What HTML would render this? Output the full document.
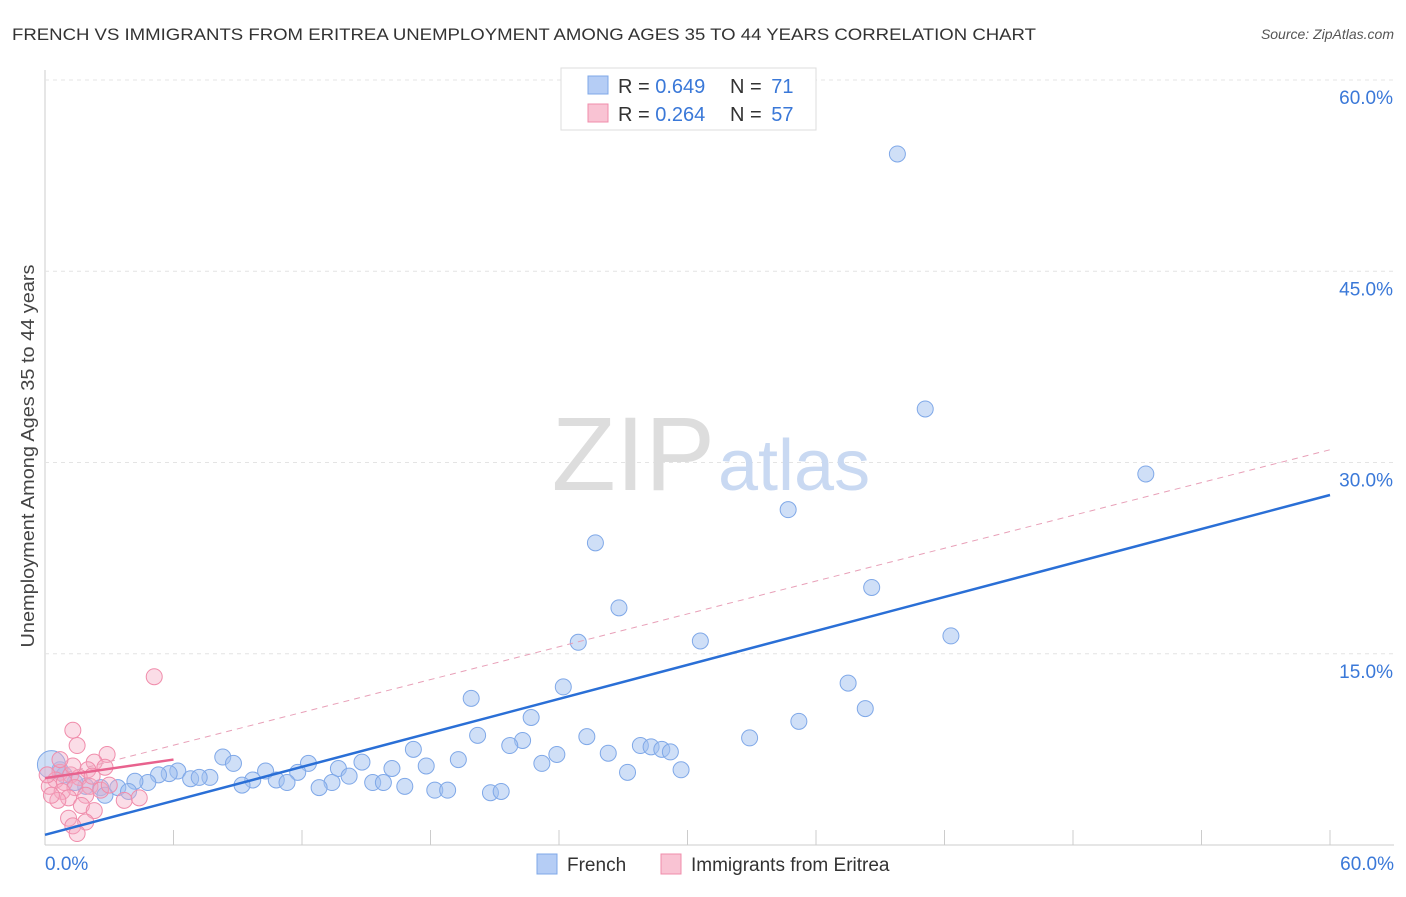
<!DOCTYPE html>
<html><head><meta charset="utf-8"><style>
body{margin:0;background:#fff;font-family:"Liberation Sans",sans-serif;}
svg text{font-family:"Liberation Sans",sans-serif;}
</style></head><body>
<svg width="1406" height="892" viewBox="0 0 1406 892">
<text x="12" y="40" font-size="17" fill="#333" textLength="1024" lengthAdjust="spacingAndGlyphs">FRENCH VS IMMIGRANTS FROM ERITREA UNEMPLOYMENT AMONG AGES 35 TO 44 YEARS CORRELATION CHART</text>
<text x="1394" y="39" font-size="14" fill="#555" font-style="italic" text-anchor="end">Source: ZipAtlas.com</text>
<text x="34" y="456" font-size="18" fill="#444" text-anchor="middle" textLength="383" lengthAdjust="spacingAndGlyphs" transform="rotate(-90 34 456)">Unemployment Among Ages 35 to 44 years</text>
<g id="grid"></g>
<text x="715" y="490" font-size="105" fill="#ddd" text-anchor="end" font-family="Liberation Serif">ZIP</text>
<text x="718" y="490" font-size="72" fill="#c9d9f2">atlas</text>
<g id="marks"></g>
<g>
<rect x="561" y="68" width="255" height="62" fill="#fff" stroke="#ddd"/>
<rect x="588" y="76" width="20" height="18" fill="#b5cdf5" stroke="#7fa8e8"/>
<rect x="588" y="104" width="20" height="18" fill="#f9c3d3" stroke="#f08cab"/>
<text x="618" y="93" font-size="20" fill="#333">R = <tspan fill="#3a78d8">0.649</tspan></text>
<text x="730" y="93" font-size="20" fill="#333">N = <tspan dx="4" fill="#3a78d8">71</tspan></text>
<text x="618" y="121" font-size="20" fill="#333">R = <tspan fill="#3a78d8">0.264</tspan></text>
<text x="730" y="121" font-size="20" fill="#333">N = <tspan dx="4" fill="#3a78d8">57</tspan></text>
</g>
<g>
<rect x="537" y="854" width="20" height="20" fill="#b5cdf5" stroke="#7fa8e8"/>
<text x="567" y="871" font-size="19" fill="#333">French</text>
<rect x="661" y="854" width="20" height="20" fill="#f9c3d3" stroke="#f08cab"/>
<text x="691" y="871" font-size="19" fill="#333">Immigrants from Eritrea</text>
</g>
</svg>
<script>
const yTicks=[15,30,45,60];
const yTickLabels=["15.0%","30.0%","45.0%","60.0%"];
const xTickLabels=["0.0%","60.0%"];
const blueX=[39.8,41.1,51.4,34.7,25.7,38.6,26.8,42.3,24.9,30.6,37.5,38.3,19.9,24.2,22.7,35.2,32.9,25.3,20.2,22.3,21.7,17.2,27.8,28.3,28.8,29.2,26.3,23.9,19.3,23.2,8.3,8.8,14.8,29.7,27.2,17.8,16.2,13.7,12.3,11.8,10.3,6.2,5.8,5.3,7.7,6.8,7.2,9.7,10.8,11.3,14.2,13.4,15.3,15.8,16.8,9.2,12.8,18.2,18.8,20.8,21.3,4.8,4.2,3.4,2.6,1.9,1.4,0.7,0.9,2.8,3.9];
const blueY=[54.2,34.2,29.1,26.3,23.7,20.2,18.6,16.4,15.9,16.0,12.7,10.7,11.5,12.4,10.0,9.7,8.4,8.5,8.6,8.2,7.8,7.5,7.8,7.7,7.5,7.3,7.2,7.1,6.7,6.4,6.9,6.4,6.5,5.9,5.7,6.2,6.0,6.0,6.4,5.7,5.8,5.8,5.6,5.5,5.3,5.2,5.3,5.1,5.1,4.9,5.4,4.9,4.9,4.9,4.6,4.7,4.5,4.3,4.3,4.1,4.2,4.9,5.0,4.5,4.5,4.6,4.9,5.9,5.5,3.9,4.2];
const pinkX=[5.1,1.3,1.5,2.9,2.3,2.8,2.0,0.7,1.2,1.6,0.5,0.9,0.2,1.4,2.1,0.8,1.9,2.6,1.1,0.6,3.7,4.4,1.7,2.3,1.1,1.9,1.3,1.5,0.3,3.0,0.1,1.3,2.2,0.7];
const pinkY=[13.2,9.0,7.8,7.1,6.5,6.1,5.9,5.7,5.5,5.3,5.1,4.9,4.6,4.5,4.6,4.2,3.9,4.3,3.7,3.5,3.5,3.7,3.1,2.7,2.1,1.8,1.5,0.9,3.9,4.7,5.5,6.2,5.4,6.7];
const blueLine=[0.8,27.45];
const pinkLine=[5.25,6.7,31.0];
const NS="http://www.w3.org/2000/svg";
const sx=v=>45+v*1285/60, sy=v=>845-v*12.75;
function mk(t,a,p){const e=document.createElementNS(NS,t);for(const k in a)e.setAttribute(k,a[k]);p.appendChild(e);return e;}
const g=document.getElementById('grid'), m=document.getElementById('marks');
mk('line',{x1:45,y1:70,x2:45,y2:845,stroke:'#ccc'},g);
mk('line',{x1:45,y1:845,x2:1394,y2:845,stroke:'#ccc'},g);
for(let i=0;i<=10;i++){const l=mk('line',{x1:sx(i*6),y1:830,x2:sx(i*6),y2:845,stroke:'#ccc'},g);

}
yTicks.forEach((v,i)=>{const l=mk('line',{x1:45,y1:sy(v),x2:1394,y2:sy(v),stroke:'#e4e4e4','stroke-dasharray':'4,4'},g);


const t=mk('text',{x:1393,y:sy(v)+24,'font-size':19,fill:'#3a78d8','text-anchor':'end'},g);t.textContent=yTickLabels[i];

});
[[0,'start',45],[60,'end',1394]].forEach((d,i)=>{const t=mk('text',{x:d[2],y:870,'font-size':19,fill:'#3a78d8','text-anchor':d[1]},g);t.textContent=xTickLabels[i];

});
blueX.forEach((x,i)=>{const c=mk('circle',{cx:sx(x),cy:sy(blueY[i]),r:8,fill:'rgba(160,192,240,0.5)',stroke:'#7fa8e8','stroke-width':1},m);

});
const big=mk('circle',{cx:sx(0.3),cy:sy(6.3),r:14,fill:'rgba(160,192,240,0.5)',stroke:'#7fa8e8'},m);


pinkX.forEach((x,i)=>{const c=mk('circle',{cx:sx(x),cy:sy(pinkY[i]),r:8,fill:'rgba(245,170,195,0.4)',stroke:'#f08cab','stroke-width':1},m);

});
const bl=mk('line',{x1:sx(0),y1:sy(blueLine[0]),x2:sx(60),y2:sy(blueLine[1]),stroke:'#2a6fd6','stroke-width':2.5},m);


const pd=mk('line',{x1:sx(0),y1:sy(pinkLine[0]),x2:sx(60),y2:sy(pinkLine[2]),stroke:'#e8a0b8','stroke-width':1,'stroke-dasharray':'6,5'},m);


const pl=mk('line',{x1:sx(0),y1:sy(pinkLine[0]),x2:sx(6),y2:sy(pinkLine[1]),stroke:'#e8628e','stroke-width':2.5},m);


</script>
</body></html>
